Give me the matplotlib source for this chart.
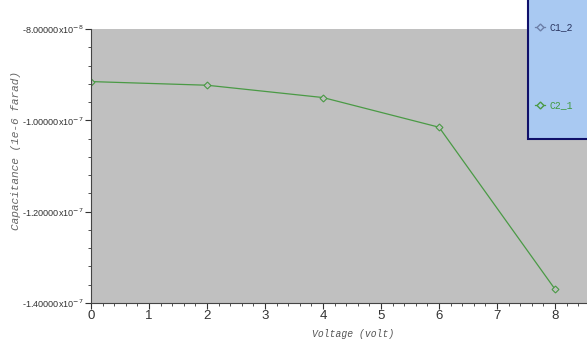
import matplotlib
matplotlib.use("Agg")
import matplotlib.pyplot as plt
from matplotlib.lines import Line2D
from matplotlib.patches import Rectangle
from matplotlib.ticker import MultipleLocator, FuncFormatter

# C2_1 series
voltage = [0, 2, 4, 6, 8]
cap_c2_1 = [-9.15e-8, -9.23e-8, -9.50e-8, -1.015e-7, -1.37e-7]

y_ticks = [-8.0e-8, -1.0e-7, -1.2e-7, -1.4e-7]
series_names = ["C1_2", "C2_1"]

tick_font = ["Liberation Sans Narrow", "Liberation Sans", "DejaVu Sans"]
label_font = ["Liberation Mono", "DejaVu Sans Mono"]

plt.rcParams["mathtext.fontset"] = "custom"
plt.rcParams["mathtext.rm"] = "Liberation Sans Narrow"
plt.rcParams["mathtext.it"] = "Liberation Sans Narrow"


def sci_label(v, pos):
    exp = 0
    m = abs(v)
    while m < 1 and m != 0:
        m *= 10
        exp -= 1
    sign = "-" if v < 0 else ""
    return r"%s%.5fx10$^{%d}$" % (sign, m, exp)


fig = plt.figure(figsize=(5.87, 3.42), dpi=100)
fig.patch.set_facecolor("white")
ax = fig.add_axes([0.155, 0.114, 0.845, 0.801])
ax.set_facecolor("#c0c0c0")

ax.plot(voltage, cap_c2_1, color="#4a9a45", lw=0.9, marker="D", ms=3.5,
        mfc="#c0c0c0", mec="#4a9a45", mew=0.8)

ax.set_xlim(0, 8.55)
ax.set_ylim(-1.4e-7, -8.0e-8)
ax.xaxis.set_major_locator(MultipleLocator(1))
ax.xaxis.set_minor_locator(MultipleLocator(0.2))
ax.set_yticks(y_ticks)
ax.yaxis.set_minor_locator(MultipleLocator(4e-9))
ax.yaxis.set_major_formatter(FuncFormatter(sci_label))

for s in ["top", "right"]:
    ax.spines[s].set_visible(False)
ax.spines["left"].set_color("#444444")
ax.spines["bottom"].set_color("#444444")
ax.tick_params(which="major", length=4, width=0.8, color="#333333",
               labelcolor="#333333", pad=1)
ax.tick_params(which="minor", length=2, width=0.6, color="#333333")
ax.tick_params(axis="x", labelsize=9.5)
ax.tick_params(axis="y", labelsize=6.6)
for t in ax.get_xticklabels() + ax.get_yticklabels():
    t.set_family(tick_font)

fig.text(0.601, 0.022, "Voltage (volt)", family=label_font, style="italic",
         fontsize=7, color="#555555", ha="center", va="center")
fig.text(0.027, 0.56, "Capacitance (1e-6 farad)", family=label_font,
         style="italic", fontsize=8, color="#666666", rotation=90,
         ha="center", va="center")

# legend box
fig.patches.append(Rectangle((0.9, 0.594), 0.12, 0.42, transform=fig.transFigure,
                             facecolor="#a9c9f2", edgecolor="#10106a", lw=1.5))
handles = [
    Line2D([0], [0], color="#6d7fa8", lw=0.9, marker="D", ms=3.5,
           mfc="#a9c9f2", mec="#6d7fa8"),
    Line2D([0], [0], color="#4a9a45", lw=0.9, marker="D", ms=3.5,
           mfc="#a9c9f2", mec="#4a9a45"),
]
leg = fig.legend(handles, series_names, loc="upper left",
                 bbox_to_anchor=(0.897, 0.96), frameon=False,
                 handlelength=1.0, handletextpad=0.5, labelspacing=7.0,
                 prop={"family": label_font, "size": 7})
leg.get_texts()[0].set_color("#2a3560")
leg.get_texts()[1].set_color("#3f9a3f")

fig.savefig("out.png", dpi=100)
